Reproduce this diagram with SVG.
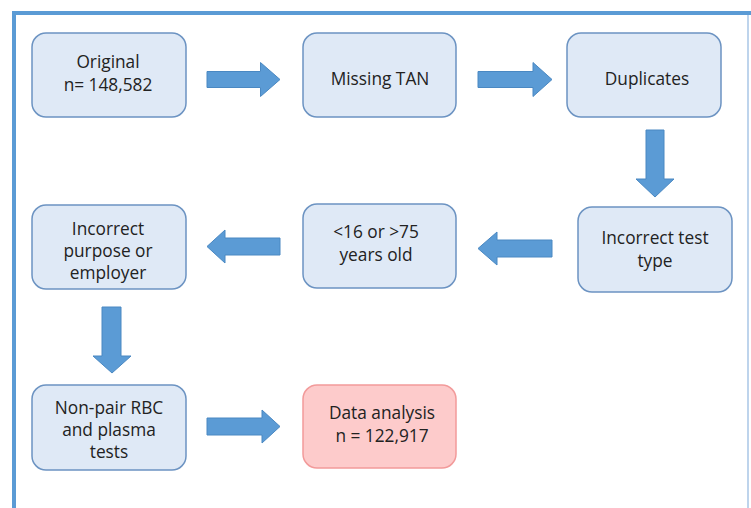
<svg xmlns="http://www.w3.org/2000/svg" width="751" height="508" viewBox="0 0 751 508">
<style>
.box{fill:#dfe9f6;stroke:#6c93c2;stroke-width:1.5}
.red{fill:#fdcbcb;stroke:#f29a9a;stroke-width:1.5}
.arr{fill:#5b9bd5;stroke:#4a88c2;stroke-width:1}
text{font-family:"Open Sans","Liberation Sans",sans-serif;font-size:17.3px;fill:#222222;text-anchor:middle}
</style>
<rect x="0" y="0" width="751" height="508" fill="#ffffff"/>
<g id="frame">
<line x1="748" y1="15" x2="748" y2="508" stroke="#a9c6e6" stroke-width="1.5"/>
<line x1="12" y1="13" x2="751" y2="13" stroke="#5b9bd5" stroke-width="4"/>
<line x1="14" y1="11" x2="14" y2="508" stroke="#5b9bd5" stroke-width="4"/>
</g>
<g id="connectors">
<polygon class="arr" points="207,71.5 260.5,71.5 260.5,62.5 280,79.5 260.5,96.5 260.5,87.5 207,87.5"/>
<polygon class="arr" points="478,71.5 533,71.5 533,62.5 552,79.5 533,96.5 533,87.5 478,87.5"/>
<polygon class="arr" points="646,130 664,130 664,179 674,179 655,197 636,179 646,179"/>
<polygon class="arr" points="552,240 497,240 497,232 478,248.5 497,265 497,257 552,257"/>
<polygon class="arr" points="280,238 225,238 225,230 207,246.5 225,263 225,255 280,255"/>
<polygon class="arr" points="102,307 121,307 121,356 131,356 112,373 93,356 102,356"/>
<polygon class="arr" points="207,418 262,418 262,410 280,426.5 262,443 262,435 207,435"/>
</g>
<g id="n-original">
<rect class="box" x="32" y="33" width="154" height="84" rx="14"/>
<text x="108" y="68">Original</text>
<text x="108" y="91">n= 148,582</text>
</g>
<g id="n-missing-tan">
<rect class="box" x="303" y="33" width="153" height="84" rx="14"/>
<text x="380" y="85">Missing TAN</text>
</g>
<g id="n-duplicates">
<rect class="box" x="567" y="33" width="154" height="84" rx="14"/>
<text x="647" y="85">Duplicates</text>
</g>
<g id="n-incorrect-test">
<rect class="box" x="578" y="207" width="154" height="85" rx="14"/>
<text x="655" y="244">Incorrect test</text>
<text x="655" y="267">type</text>
</g>
<g id="n-age">
<rect class="box" x="303" y="204" width="153" height="84" rx="14"/>
<text x="376" y="238">&lt;16 or &gt;75</text>
<text x="376" y="261">years old</text>
</g>
<g id="n-incorrect-purpose">
<rect class="box" x="32" y="205" width="154" height="84" rx="14"/>
<text x="108" y="235">Incorrect</text>
<text x="108" y="257">purpose or</text>
<text x="108" y="279">employer</text>
</g>
<g id="n-nonpair">
<rect class="box" x="32" y="385" width="154" height="85" rx="14"/>
<text x="109" y="414">Non-pair RBC</text>
<text x="109" y="436">and plasma</text>
<text x="109" y="458">tests</text>
</g>
<g id="n-data-analysis">
<rect class="red" x="303" y="385" width="153" height="83" rx="14"/>
<text x="382" y="419">Data analysis</text>
<text x="382" y="442">n = 122,917</text>
</g>
</svg>
